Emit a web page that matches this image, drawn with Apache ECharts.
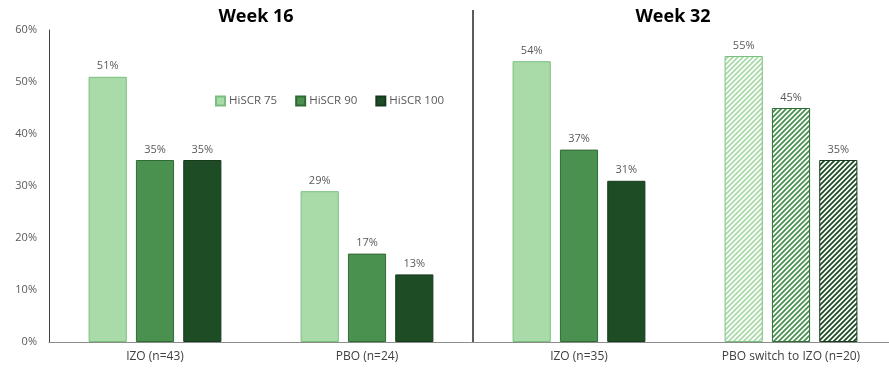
<!DOCTYPE html>
<html><head><meta charset="utf-8">
<script src="https://cdn.jsdelivr.net/npm/echarts@6/dist/echarts.min.js"></script>
<style>html,body{margin:0;padding:0;background:#fff}#c{width:889px;height:374px}</style>
</head><body><div id="c"></div>
<script>
const categories = ['IZO (n=43)', 'PBO (n=24)', 'IZO (n=35)', 'PBO switch to IZO (n=20)'];
const seriesNames = ['HiSCR 75', 'HiSCR 90', 'HiSCR 100'];
const hiscr75 = [51, 29, 54, 55];
const hiscr90 = [35, 17, 37, 45];
const hiscr100 = [35, 13, 31, 35];
const hatchedIndex = 3;
const panelTitles = ['Week 16', 'Week 32'];
const yTicks = {min: 0, max: 60, interval: 10};

const fills = ['#a8dba8', '#4a9150', '#1e4d25'];
const borders = ['#7bbf7e', '#2f6b35', '#163a1c'];
const FONT = '"Open Sans", "Noto Sans", sans-serif';

function hatch(color) {
  const s = 5, c = document.createElement('canvas');
  c.width = s; c.height = s;
  const g = c.getContext('2d');
  g.fillStyle = '#fff'; g.fillRect(0, 0, s, s);
  g.strokeStyle = color; g.lineWidth = 1.8;
  g.beginPath();
  g.moveTo(0, s); g.lineTo(s, 0);
  g.moveTo(-1, 1); g.lineTo(1, -1);
  g.moveTo(s - 1, s + 1); g.lineTo(s + 1, s - 1);
  g.stroke();
  return {image: c, repeat: 'repeat'};
}

const values = [hiscr75, hiscr90, hiscr100];
const series = values.map((vals, i) => ({
  name: seriesNames[i],
  type: 'bar',
  barWidth: '18%',
  barGap: '24%',
  itemStyle: {color: fills[i], borderColor: borders[i], borderWidth: 1},
  label: {show: true, position: 'top', distance: 5, formatter: '{c}%', color: '#595959', fontSize: 11, fontFamily: FONT},
  data: vals.map((v, j) => j === hatchedIndex
    ? {value: v, itemStyle: {color: hatch(fills[i]), borderColor: borders[i], borderWidth: 1}}
    : v)
}));

const chart = echarts.init(document.getElementById('c'), null, {renderer: 'canvas'});
chart.setOption({
  animation: false,
  backgroundColor: '#fff',
  textStyle: {fontFamily: FONT},
  grid: {left: 49, right: -8, top: 30, bottom: 32, containLabel: false, outerBoundsMode: 'none'},
  legend: {
    data: seriesNames, left: 210, top: 90, itemWidth: 9, itemHeight: 9, itemGap: 18,
    icon: 'rect',
    textStyle: {color: '#595959', fontSize: 11.5, fontFamily: FONT, padding: [0, 0, 0, -1]}
  },
  xAxis: {
    type: 'category', data: categories,
    axisLine: {lineStyle: {color: '#8c8c8c'}},
    axisTick: {show: false},
    axisLabel: {color: '#404040', fontSize: 12, margin: 9, fontFamily: FONT}
  },
  yAxis: {
    type: 'value', min: yTicks.min, max: yTicks.max, interval: yTicks.interval,
    axisLine: {show: true, lineStyle: {color: '#404040'}},
    axisTick: {show: false},
    splitLine: {show: false},
    axisLabel: {formatter: '{value}%', color: '#595959', fontSize: 11, margin: 12, fontFamily: FONT}
  },
  series: series
});

const x1 = chart.convertToPixel({xAxisIndex: 0}, categories[1]);
const x2 = chart.convertToPixel({xAxisIndex: 0}, categories[2]);
const mid = (x1 + x2) / 2;
const yBase = chart.convertToPixel({yAxisIndex: 0}, 0);
chart.setOption({
  graphic: [
    {type: 'line', shape: {x1: mid, y1: 10, x2: mid, y2: yBase}, style: {stroke: '#262626', lineWidth: 1.5}},
    {type: 'text', x: mid - 217, y: 8, style: {text: panelTitles[0], font: 'bold 18px ' + FONT, fill: '#000', textAlign: 'center', textVerticalAlign: 'top'}},
    {type: 'text', x: mid + 200, y: 8, style: {text: panelTitles[1], font: 'bold 18px ' + FONT, fill: '#000', textAlign: 'center', textVerticalAlign: 'top'}}
  ]
});
</script>
</body></html>
